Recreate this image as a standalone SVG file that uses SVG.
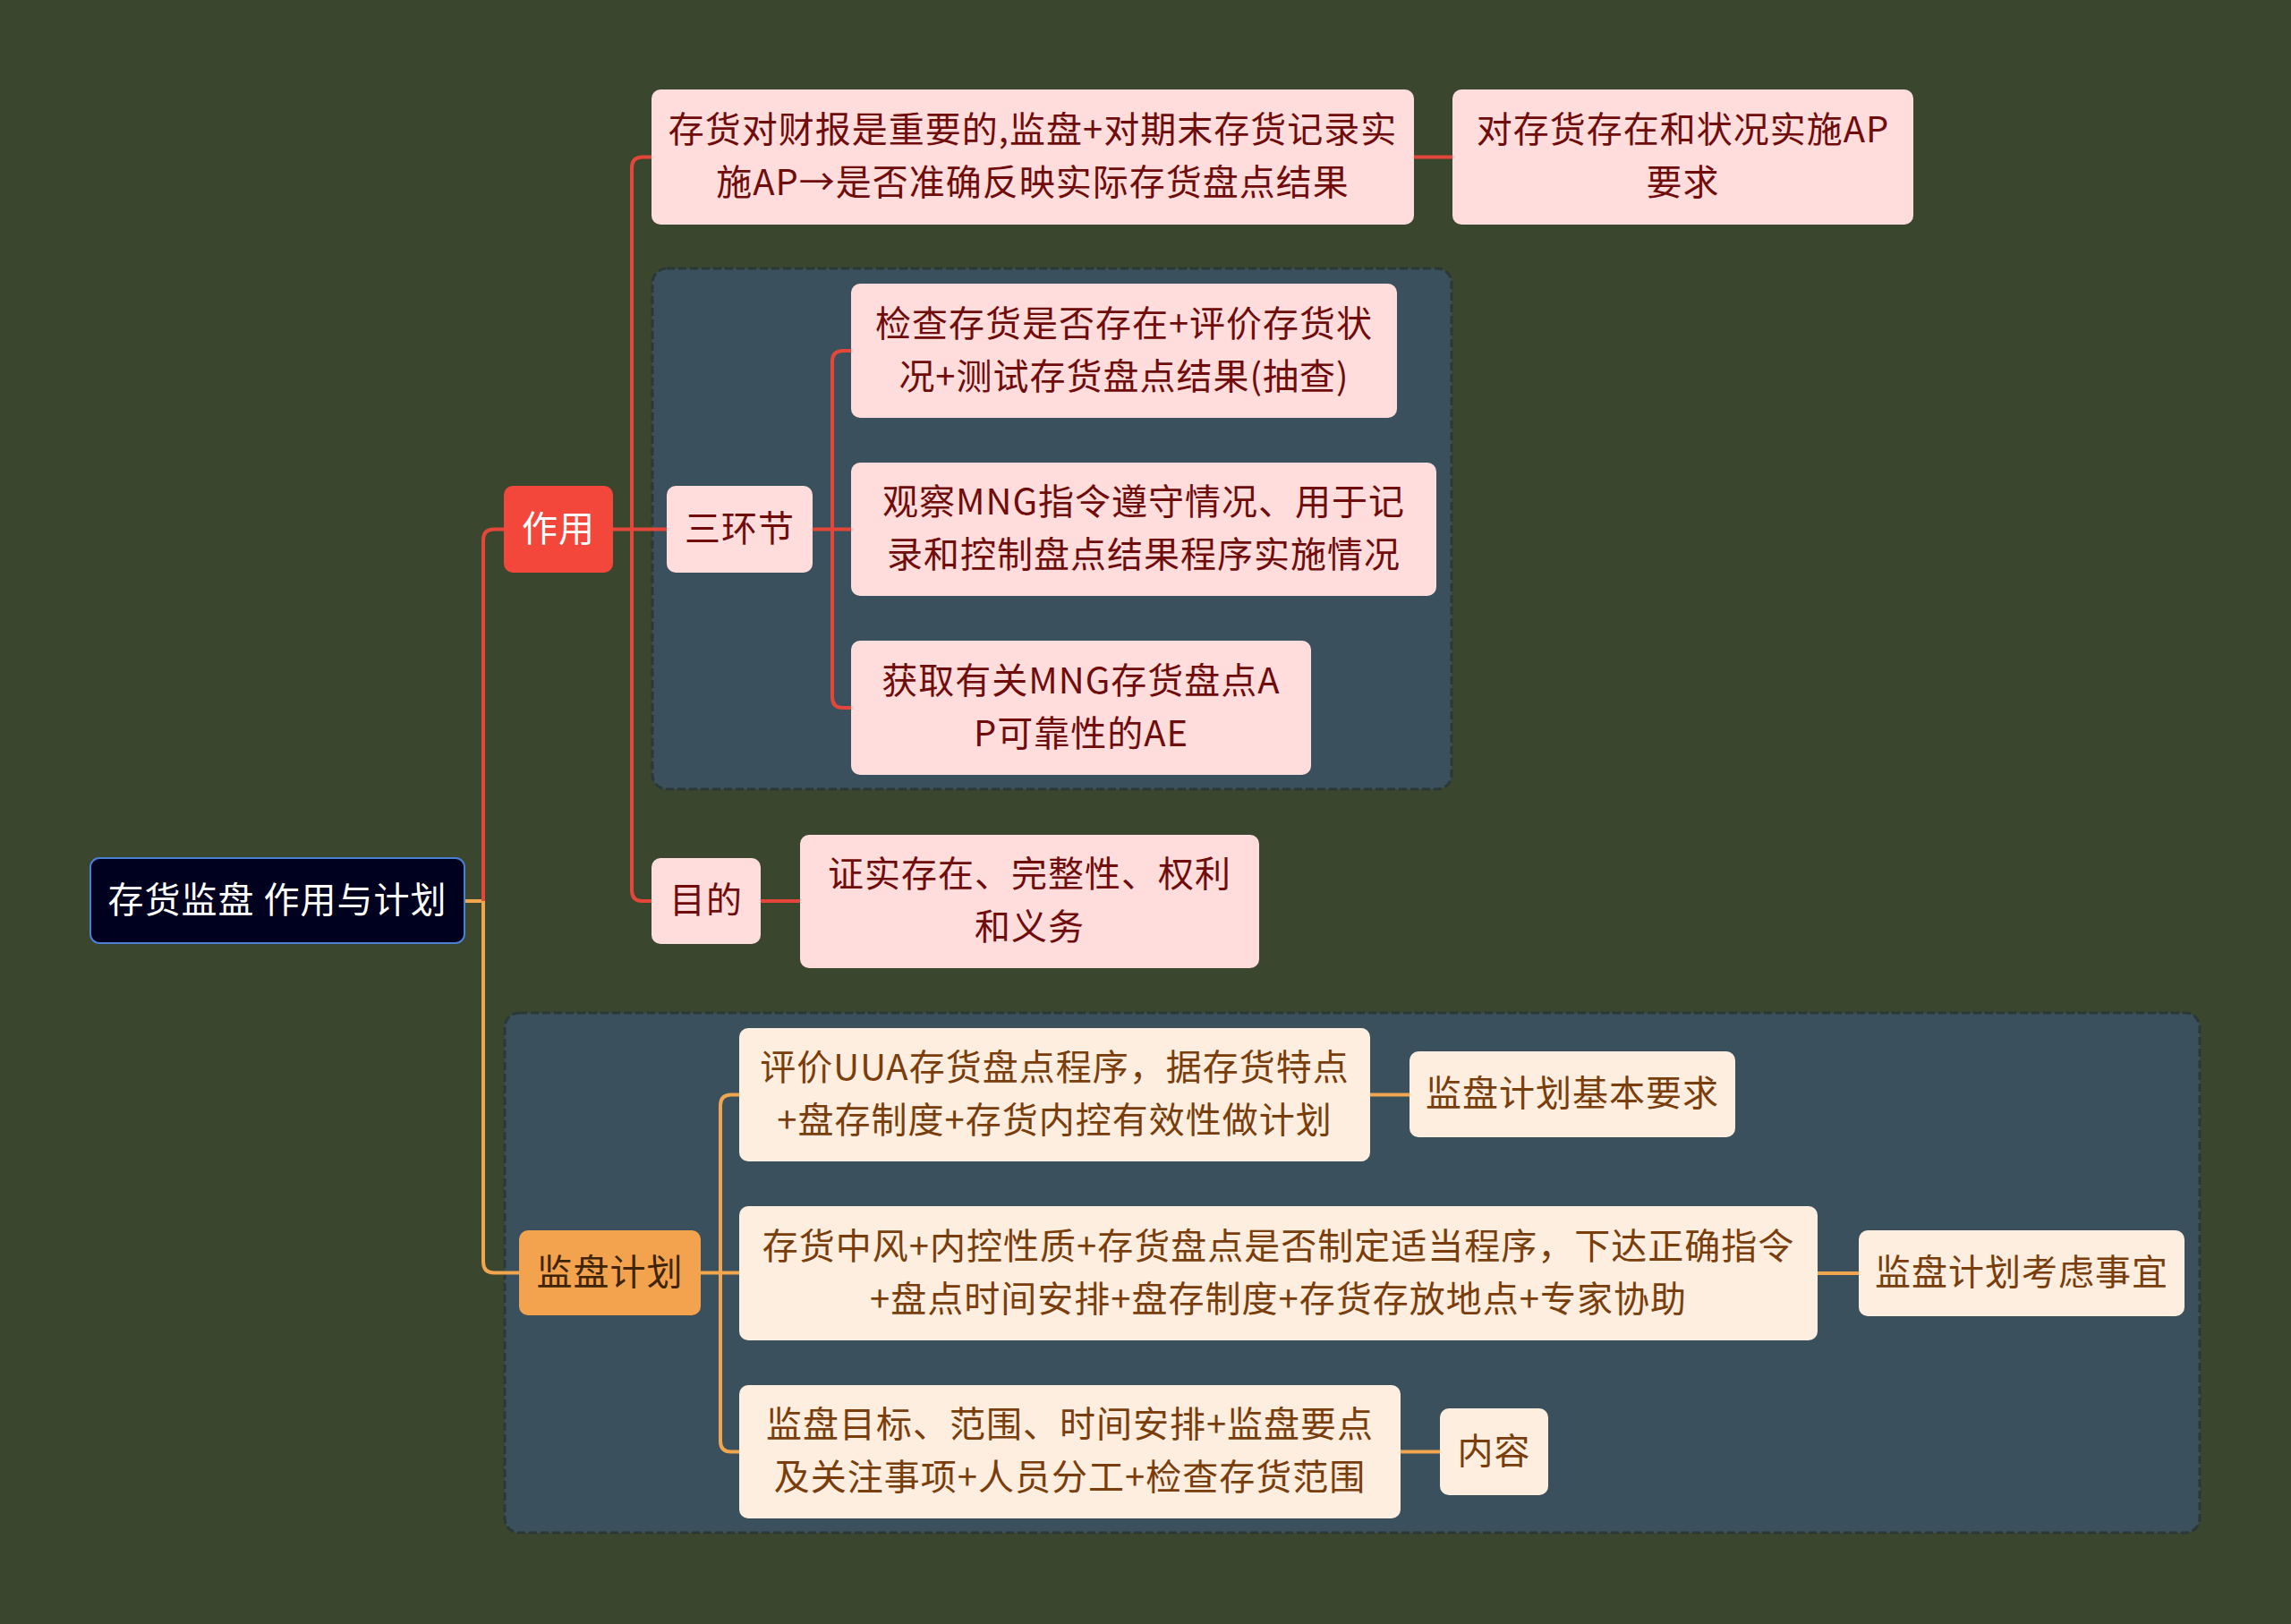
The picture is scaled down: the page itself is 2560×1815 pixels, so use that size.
<svg xmlns="http://www.w3.org/2000/svg" width="2560" height="1815" viewBox="0 0 2560 1815">
<style>
text{font-family:"Noto Sans CJK SC","Noto Sans",sans-serif;font-size:40px;letter-spacing:1px;text-anchor:middle;dominant-baseline:central}
.grp{fill:#3a505c;stroke:#2c3837;stroke-width:3;stroke-dasharray:9 4}
.pink rect{fill:#fedddc}
.pink text{fill:#700c0c}
.cream rect{fill:#fdeedf}
.cream text{fill:#7a3d0c}
.red{fill:none;stroke:#e5463a;stroke-width:4}
.org{fill:none;stroke:#f0a54e;stroke-width:4}
</style>
<rect width="2560" height="1815" fill="#3b462f"/>
<g id="groups">
<rect class="grp" x="729" y="300" width="893" height="582" rx="16"/>
<rect class="grp" x="564" y="1132" width="1894" height="581" rx="16"/>
</g>
<g id="connectors">
<path class="org" d="M519 1007H540V1410Q540 1422.5 552 1422.5H580"/>
<path class="red" d="M540 1007V603.5Q540 591.5 552 591.5H563"/>
<path class="red" d="M685 591.5H745"/>
<path class="red" d="M706 591.5V187.5Q706 175.5 718 175.5H728"/>
<path class="red" d="M706 591.5V995Q706 1007 718 1007H728"/>
<path class="red" d="M1580 175.5H1623"/>
<path class="red" d="M908 591.5H951"/>
<path class="red" d="M930 591.5V404Q930 392 942 392H951"/>
<path class="red" d="M930 591.5V779Q930 791 942 791H951"/>
<path class="red" d="M850 1007H894"/>
<path class="org" d="M783 1422.5H826"/>
<path class="org" d="M805 1422.5V1235.5Q805 1223.5 817 1223.5H826"/>
<path class="org" d="M805 1422.5V1610.5Q805 1622.5 817 1622.5H826"/>
<path class="org" d="M1531 1223.5H1575"/>
<path class="org" d="M2031 1423H2077"/>
<path class="org" d="M1565 1622.5H1609"/>
</g>
<g id="root">
<rect x="101" y="959" width="418" height="95" rx="10" fill="#00001f" stroke="#4a7fd6" stroke-width="2"/>
<text x="310" y="1002.5" fill="#ffffff">存货监盘 作用与计划</text>
</g>
<g id="zuoyong">
<rect x="563" y="543" width="122" height="97" rx="10" fill="#f4473b"/>
<text x="624" y="587.5" fill="#ffffff">作用</text>
</g>
<g id="sanhuanjie" class="pink">
<rect x="745" y="543" width="163" height="97" rx="10"/>
<text x="826.5" y="587.5">三环节</text>
</g>
<g id="n_a" class="pink">
<rect x="728" y="100" width="852" height="151" rx="10"/>
<text><tspan x="1154" y="142">存货对财报是重要的,监盘+对期末存货记录实</tspan><tspan x="1154" y="201">施AP→是否准确反映实际存货盘点结果</tspan></text>
</g>
<g id="n_b" class="pink">
<rect x="1623" y="100" width="515" height="151" rx="10"/>
<text><tspan x="1880.5" y="142">对存货存在和状况实施AP</tspan><tspan x="1880.5" y="201">要求</tspan></text>
</g>
<g id="n_c1" class="pink">
<rect x="951" y="317" width="610" height="150" rx="10"/>
<text><tspan x="1256" y="358.5">检查存货是否存在+评价存货状</tspan><tspan x="1256" y="417.5">况+测试存货盘点结果(抽查)</tspan></text>
</g>
<g id="n_c2" class="pink">
<rect x="951" y="517" width="654" height="149" rx="10"/>
<text><tspan x="1278" y="558">观察MNG指令遵守情况、用于记</tspan><tspan x="1278" y="617">录和控制盘点结果程序实施情况</tspan></text>
</g>
<g id="n_c3" class="pink">
<rect x="951" y="716" width="514" height="150" rx="10"/>
<text><tspan x="1208" y="757.5">获取有关MNG存货盘点A</tspan><tspan x="1208" y="816.5">P可靠性的AE</tspan></text>
</g>
<g id="mudi" class="pink">
<rect x="728" y="959" width="122" height="96" rx="10"/>
<text x="789" y="1003">目的</text>
</g>
<g id="n_d" class="pink">
<rect x="894" y="933" width="513" height="149" rx="10"/>
<text><tspan x="1150.5" y="974">证实存在、完整性、权利</tspan><tspan x="1150.5" y="1033">和义务</tspan></text>
</g>
<g id="jianpanjihua">
<rect x="580" y="1375" width="203" height="95" rx="10" fill="#f3a34e"/>
<text x="681.5" y="1418.5" fill="#3f2405">监盘计划</text>
</g>
<g id="n_p1" class="cream">
<rect x="826" y="1149" width="705" height="149" rx="10"/>
<text><tspan x="1178.5" y="1190">评价UUA存货盘点程序，据存货特点</tspan><tspan x="1178.5" y="1249">+盘存制度+存货内控有效性做计划</tspan></text>
</g>
<g id="n_p1b" class="cream">
<rect x="1575" y="1175" width="364" height="96" rx="10"/>
<text x="1757" y="1219">监盘计划基本要求</text>
</g>
<g id="n_p2" class="cream">
<rect x="826" y="1348" width="1205" height="150" rx="10"/>
<text><tspan x="1428.5" y="1389.5">存货中风+内控性质+存货盘点是否制定适当程序，下达正确指令</tspan><tspan x="1428.5" y="1448.5">+盘点时间安排+盘存制度+存货存放地点+专家协助</tspan></text>
</g>
<g id="n_p2b" class="cream">
<rect x="2077" y="1375" width="364" height="96" rx="10"/>
<text x="2259" y="1419">监盘计划考虑事宜</text>
</g>
<g id="n_p3" class="cream">
<rect x="826" y="1548" width="739" height="149" rx="10"/>
<text><tspan x="1195.5" y="1589">监盘目标、范围、时间安排+监盘要点</tspan><tspan x="1195.5" y="1648">及关注事项+人员分工+检查存货范围</tspan></text>
</g>
<g id="n_p3b" class="cream">
<rect x="1609" y="1574" width="121" height="97" rx="10"/>
<text x="1669.5" y="1618.5">内容</text>
</g>
</svg>
